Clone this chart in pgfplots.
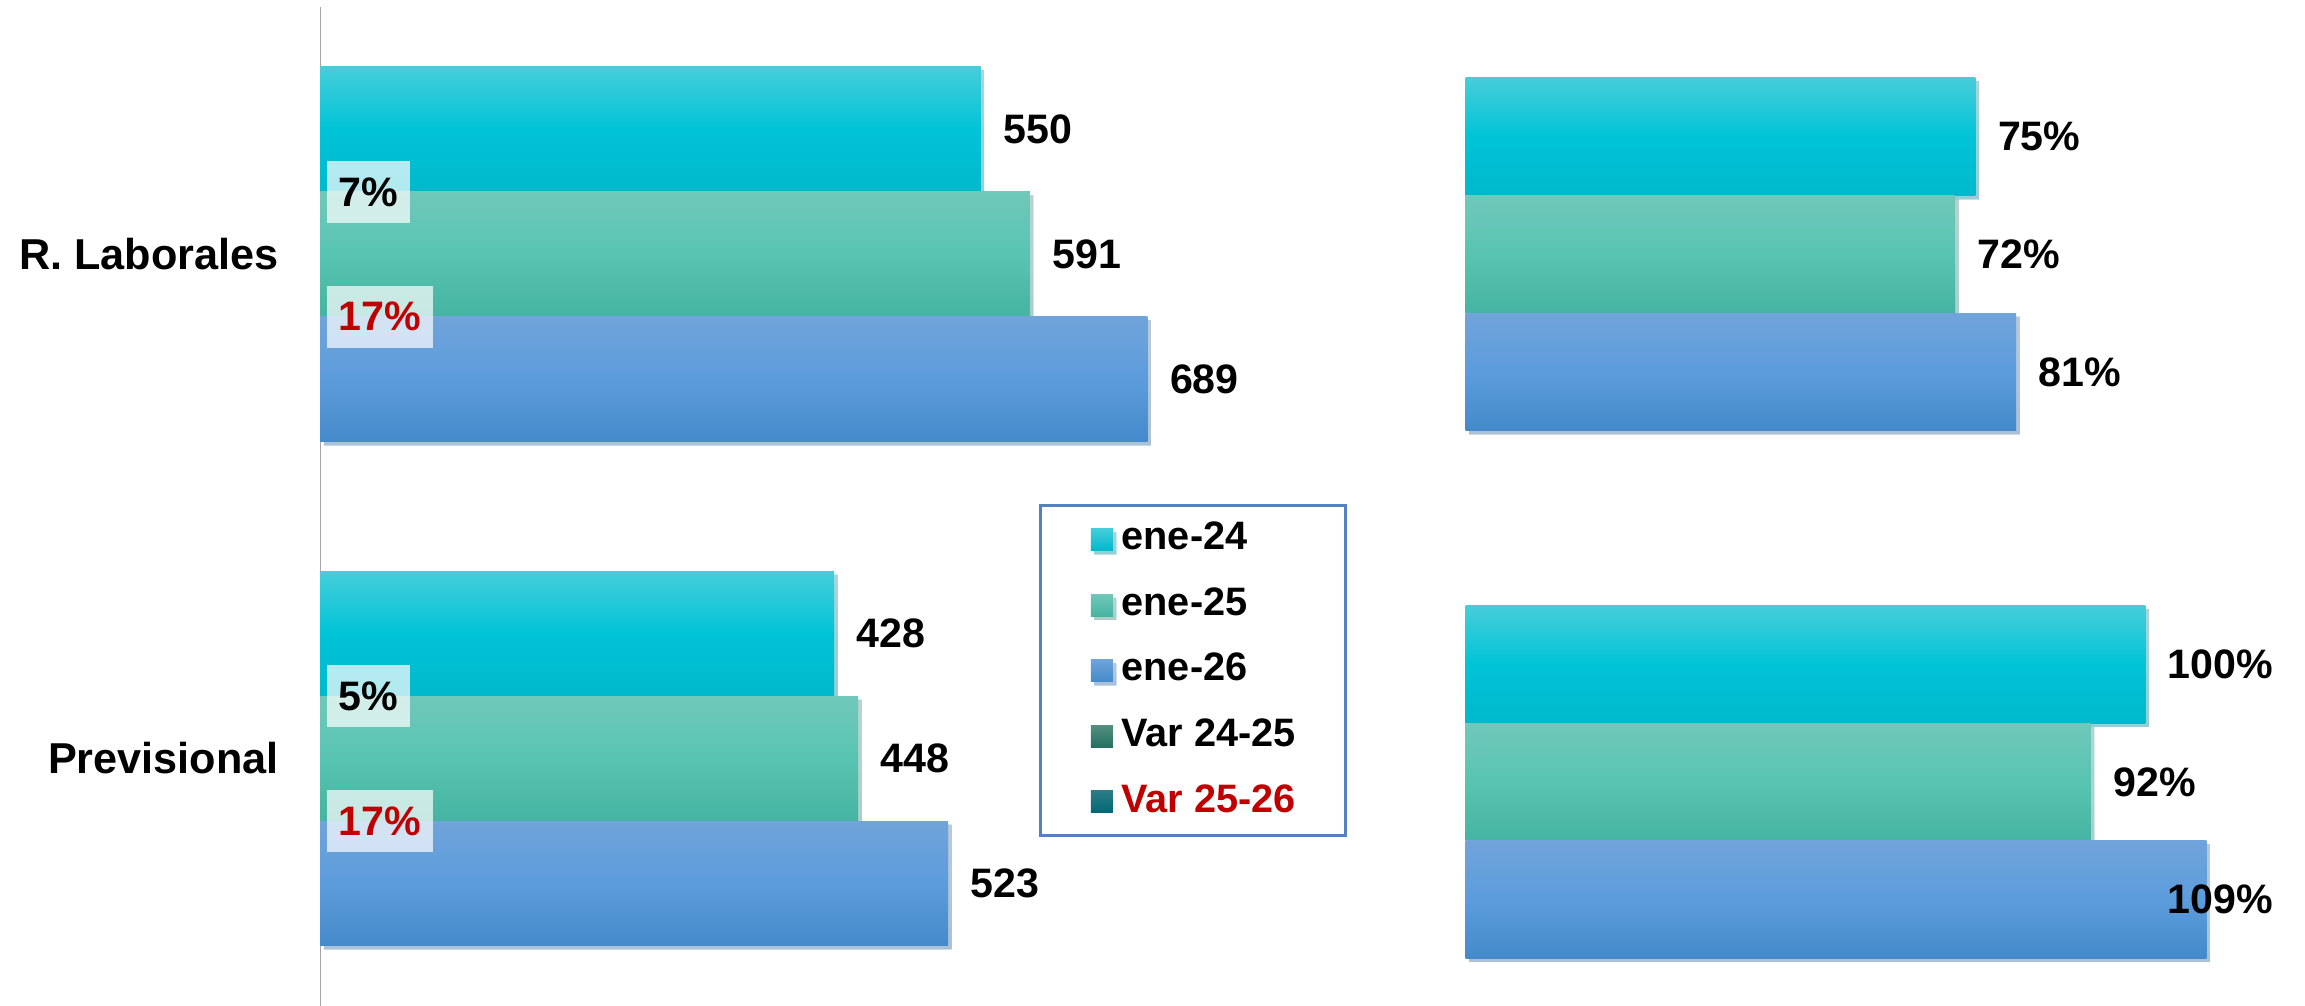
\documentclass[border=0pt]{standalone}
\usepackage{pgfplots}
\pgfplotsset{compat=1.18}
\usetikzlibrary{shadows}
\usepackage{fontspec}
\setmainfont{Liberation Sans}

\definecolor{c1t}{RGB}{70,205,218}
\definecolor{c1m}{RGB}{0,196,214}
\definecolor{c1b}{RGB}{0,184,204}
\definecolor{c2t}{RGB}{112,200,186}
\definecolor{c2m}{RGB}{88,196,178}
\definecolor{c2b}{RGB}{70,180,162}
\definecolor{c3t}{RGB}{112,164,218}
\definecolor{c3m}{RGB}{92,156,220}
\definecolor{c3b}{RGB}{68,138,202}
\definecolor{v1t}{RGB}{84,142,128}
\definecolor{v1b}{RGB}{36,112,96}
\definecolor{v2t}{RGB}{44,124,134}
\definecolor{v2b}{RGB}{0,104,116}
\definecolor{varred}{RGB}{192,0,0}
\definecolor{legbox}{RGB}{84,130,192}

\newcommand\valfont{\fontsize{14}{16}\selectfont\bfseries}

\pgfplotsset{
  barstyle/.style n args={3}{xbar, bar shift=0pt, draw=none, top color=#1, bottom color=#3, middle color=#2,
    drop shadow={shadow xshift=1.2pt, shadow yshift=-1.2pt, opacity=0.3},
    legend image code/.code={\shade[top color=#1, bottom color=#3] (0pt,-3.75pt) rectangle (7.5pt,3.75pt);}},
  valnodes/.style={nodes near coords, point meta=x,
    /pgf/number format/assume math mode=true,
    every node near coord/.append style={anchor=west, inner sep=0pt, xshift=7.5pt, font=\valfont, text=black}},
  pctnodes/.style={valnodes, nodes near coords={\pgfmathprintnumber{\pgfplotspointmeta}\%}},
  varnodes/.style={draw=none, mark=none, nodes near coords, point meta=explicit symbolic,
    every node near coord/.append style={anchor=west, xshift=2pt, fill=white, fill opacity=0.7, text opacity=1, font=\valfont, inner xsep=4pt, inner ysep=0pt, minimum height=21pt, text=#1}},
}

\begin{document}
\begin{tikzpicture}
\useasboundingbox (0,0) rectangle (784pt,-342pt);

% ---------- left panel: values ----------
% categories at y=0 (R. Laborales) and y=1 (Previsional); bars offset by one bar width (0.2478)
\begin{axis}[
  at={(109pt,-342pt)}, anchor=south west,
  width=341pt, height=339.5pt, scale only axis,
  xmin=0, xmax=835.3, ymin=-0.4898, ymax=1.4898, y dir=reverse,
  axis x line=none, axis y line*=left,
  axis line style={draw=gray!70, line width=0.6pt, -},
  ytick={0,1}, yticklabels={R. Laborales, Previsional},
  major tick length=0pt,
  yticklabel style={font=\fontsize{14.7}{17}\selectfont\bfseries, inner sep=0pt, xshift=-14pt},
  bar width=0.2478, clip=false,
  legend style={at={(axis description cs:0.717,0.5022)}, anchor=north west,
    draw=legbox, line width=1pt, font=\fontsize{13.5}{16}\selectfont\bfseries,
    inner xsep=17pt, inner ysep=5pt, row sep=9.3pt, column sep=3pt,
    nodes={inner sep=0pt, text height=10pt, text depth=3pt}},
  legend cell align=left,
]
\addplot[barstyle={c1t}{c1m}{c1b}, valnodes] coordinates {(550,-0.2478)};
\addlegendentry{ene-24}
\addplot[barstyle={c1t}{c1m}{c1b}, valnodes, forget plot] coordinates {(428,0.7522)};
\addplot[barstyle={c2t}{c2m}{c2b}, valnodes] coordinates {(591,0)};
\addlegendentry{ene-25}
\addplot[barstyle={c2t}{c2m}{c2b}, valnodes, forget plot] coordinates {(448,1)};
\addplot[barstyle={c3t}{c3m}{c3b}, valnodes] coordinates {(689,0.2478)};
\addlegendentry{ene-26}
\addplot[barstyle={c3t}{c3m}{c3b}, valnodes, forget plot] coordinates {(523,1.2478)};
\addplot[varnodes=black, legend image code/.code={\shade[top color=v1t, bottom color=v1b] (0pt,-3.75pt) rectangle (7.5pt,3.75pt);}]
  coordinates {(0,-0.1239) [7\%] (0,0.8761) [5\%]};
\addlegendentry{Var 24-25}
\addplot[varnodes=varred, legend image code/.code={\shade[top color=v2t, bottom color=v2b] (0pt,-3.75pt) rectangle (7.5pt,3.75pt);}]
  coordinates {(0,0.1239) [17\%] (0,1.1239) [17\%]};
\addlegendentry{\textcolor{varred}{Var 25-26}}
\end{axis}

% ---------- right panel: percentages ----------
\begin{axis}[
  at={(498.5pt,-342pt)}, anchor=south west,
  width=285.5pt, height=339.5pt, scale only axis,
  xmin=0, xmax=123.5, ymin=-0.468, ymax=1.4234, y dir=reverse,
  hide axis, bar width=0.2228, clip=false,
]
\addplot[barstyle={c1t}{c1m}{c1b}, pctnodes] coordinates {(75,-0.2228)};
\addplot[barstyle={c1t}{c1m}{c1b}, pctnodes] coordinates {(100,0.7772)};
\addplot[barstyle={c2t}{c2m}{c2b}, pctnodes] coordinates {(72,0)};
\addplot[barstyle={c2t}{c2m}{c2b}, pctnodes] coordinates {(92,1)};
\addplot[barstyle={c3t}{c3m}{c3b}, pctnodes] coordinates {(81,0.2228)};
% label kept inside the plot area, aligned with the 100% label
\addplot[barstyle={c3t}{c3m}{c3b}, pctnodes, every node near coord/.append style={xshift=-20.8pt}] coordinates {(109,1.2228)};
\end{axis}
\end{tikzpicture}
\end{document}
